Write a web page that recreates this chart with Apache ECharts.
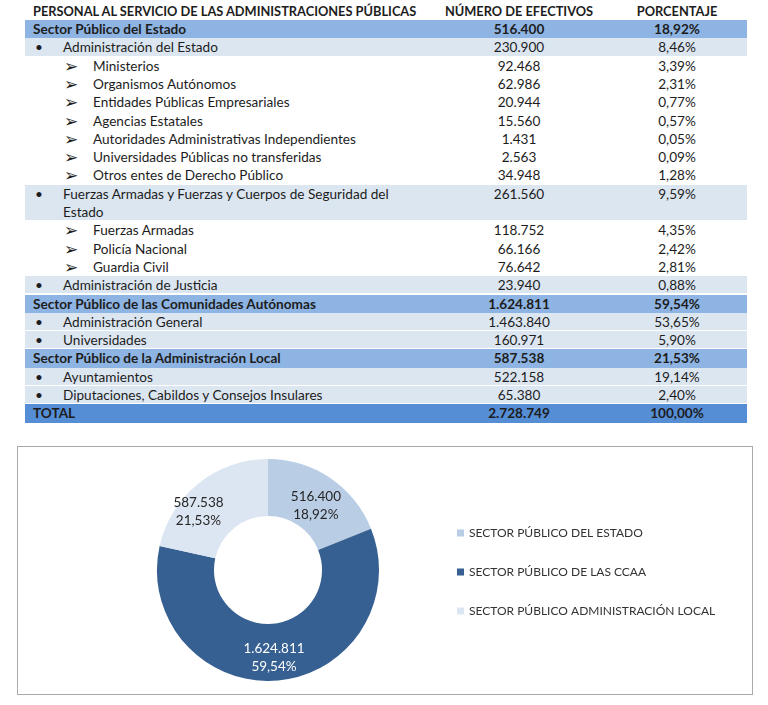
<!DOCTYPE html>
<html>
<head>
<meta charset="utf-8">
<script src="https://cdn.jsdelivr.net/npm/echarts@6/dist/echarts.min.js"></script>
<style>
  html, body { margin: 0; padding: 0; background: #fff; }
  body { width: 768px; height: 705px; position: relative; overflow: hidden;
         font-family: Lato, 'Open Sans', sans-serif; color: #1d1d1d; }
  .hdr { position: absolute; top: 2px; font-weight: bold; font-size: 12.8px; line-height: 18px; white-space: nowrap; }
  .row { position: absolute; left: 25px; width: 722px; font-size: 13.6px; }
  .row span { position: absolute; top: 0; white-space: pre; }
  .row .num, .row .pct { transform: translateX(-50%); }
  .row .arr { font-family: 'DejaVu Sans', sans-serif; font-size: 17px; }
  .sector { background: #8db4e2; font-weight: bold; }
  .total  { background: #558ed5; font-weight: bold; }
  .bullet { background: #dce6f1; }
  #chart { position: absolute; left: 17px; top: 446px; width: 734px; height: 247px;
           border: 1.5px solid #a9a9a9; }
</style>
</head>
<body>
<div class="hdr" style="left:33px">PERSONAL AL SERVICIO DE LAS ADMINISTRACIONES PÚBLICAS</div>
<div class="hdr" style="left:519px; transform:translateX(-50%)">NÚMERO DE EFECTIVOS</div>
<div class="hdr" style="left:677px; transform:translateX(-50%)">PORCENTAJE</div>
<div id="table"></div>
<div id="chart"></div>
<script>
// table rows
const rowLabels = [
  'Sector Público del Estado',
  'Administración del Estado',
  'Ministerios',
  'Organismos Autónomos',
  'Entidades Públicas Empresariales',
  'Agencias Estatales',
  'Autoridades Administrativas Independientes',
  'Universidades Públicas no transferidas',
  'Otros entes de Derecho Público',
  'Fuerzas Armadas y Fuerzas y Cuerpos de Seguridad del\nEstado',
  'Fuerzas Armadas',
  'Policía Nacional',
  'Guardia Civil',
  'Administración de Justicia',
  'Sector Público de las Comunidades Autónomas',
  'Administración General',
  'Universidades',
  'Sector Público de la Administración Local',
  'Ayuntamientos',
  'Diputaciones, Cabildos y Consejos Insulares',
  'TOTAL'
];
const rowKinds = ['sector', 'bullet', 'arrow', 'arrow', 'arrow', 'arrow', 'arrow', 'arrow', 'arrow',
  'bullet', 'arrow', 'arrow', 'arrow', 'bullet', 'sector', 'bullet', 'bullet', 'sector', 'bullet', 'bullet', 'total'];
const rowEfectivos = [516400, 230900, 92468, 62986, 20944, 15560, 1431, 2563, 34948,
  261560, 118752, 66166, 76642, 23940, 1624811, 1463840, 160971, 587538, 522158, 65380, 2728749];
const rowPorcentajes = [18.92, 8.46, 3.39, 2.31, 0.77, 0.57, 0.05, 0.09, 1.28,
  9.59, 4.35, 2.42, 2.81, 0.88, 59.54, 53.65, 5.90, 21.53, 19.14, 2.40, 100.00];

// donut
const sectorNames = ['SECTOR PÚBLICO DEL ESTADO', 'SECTOR PÚBLICO DE LAS CCAA', 'SECTOR PÚBLICO ADMINISTRACIÓN LOCAL'];
const sectorValues = [516400, 1624811, 587538];
const sectorPcts = [18.92, 59.54, 21.53];
const sectorColors = ['#b9cde5', '#376092', '#dce6f2'];
const labelNudges = [[0, 6], [-1, 2], [-16, 8]];

const fmtNum = (n) => String(n).replace(/\B(?=(\d{3})+(?!\d))/g, '.');
const fmtPct = (p) => p.toFixed(2).replace('.', ',') + '%';

function buildTable() {
  const lineH = 18.3;
  let y = 20;
  const host = document.getElementById('table');
  rowLabels.forEach((label, i) => {
    const kind = rowKinds[i];
    const lines = label.split('\n').length;
    const row = document.createElement('div');
    row.className = 'row ' + kind;
    row.style.top = y + 'px';
    row.style.height = (lines * lineH - (kind === 'bullet' ? 1 : 0)) + 'px';
    row.style.lineHeight = lineH + 'px';
    let html = '';
    if (kind === 'bullet') {
      html += '<span style="left:10px">•</span><span style="left:38px">' + label + '</span>';
    } else if (kind === 'arrow') {
      html += '<span class="arr" style="left:39px">➢</span><span style="left:68px">' + label + '</span>';
    } else {
      html += '<span style="left:8px">' + label + '</span>';
    }
    html += '<span class="num" style="left:494px">' + fmtNum(rowEfectivos[i]) + '</span>';
    html += '<span class="pct" style="left:652px">' + fmtPct(rowPorcentajes[i]) + '</span>';
    row.innerHTML = html;
    host.appendChild(row);
    y += lines * lineH;
  });
}

function buildChart() {
  const chart = echarts.init(document.getElementById('chart'));
  const data = sectorNames.map((name, i) => ({
    name,
    value: sectorValues[i],
    pct: sectorPcts[i],
    itemStyle: { color: sectorColors[i] },
    label: { color: i === 1 ? '#ffffff' : '#262626', offset: labelNudges[i] }
  }));
  chart.setOption({
    animation: false,
    legend: {
      orient: 'vertical',
      left: 434,
      top: 74,
      icon: 'rect',
      itemWidth: 7,
      itemHeight: 7,
      itemGap: 25,
      selectedMode: false,
      textStyle: { fontFamily: 'Lato', fontSize: 12, color: '#333', lineHeight: 14 },
      data: sectorNames
    },
    series: [{
      type: 'pie',
      center: [250, 123],
      radius: [54, 111],
      startAngle: 90,
      clockwise: true,
      silent: true,
      label: {
        position: 'inside',
        fontFamily: 'Lato',
        fontSize: 13.5,
        lineHeight: 18,
        formatter: (p) => fmtNum(p.value) + '\n' + fmtPct(p.data.pct)
      },
      labelLine: { show: false },
      data
    }]
  });
}

buildTable();
buildChart();
</script>
</body>
</html>
